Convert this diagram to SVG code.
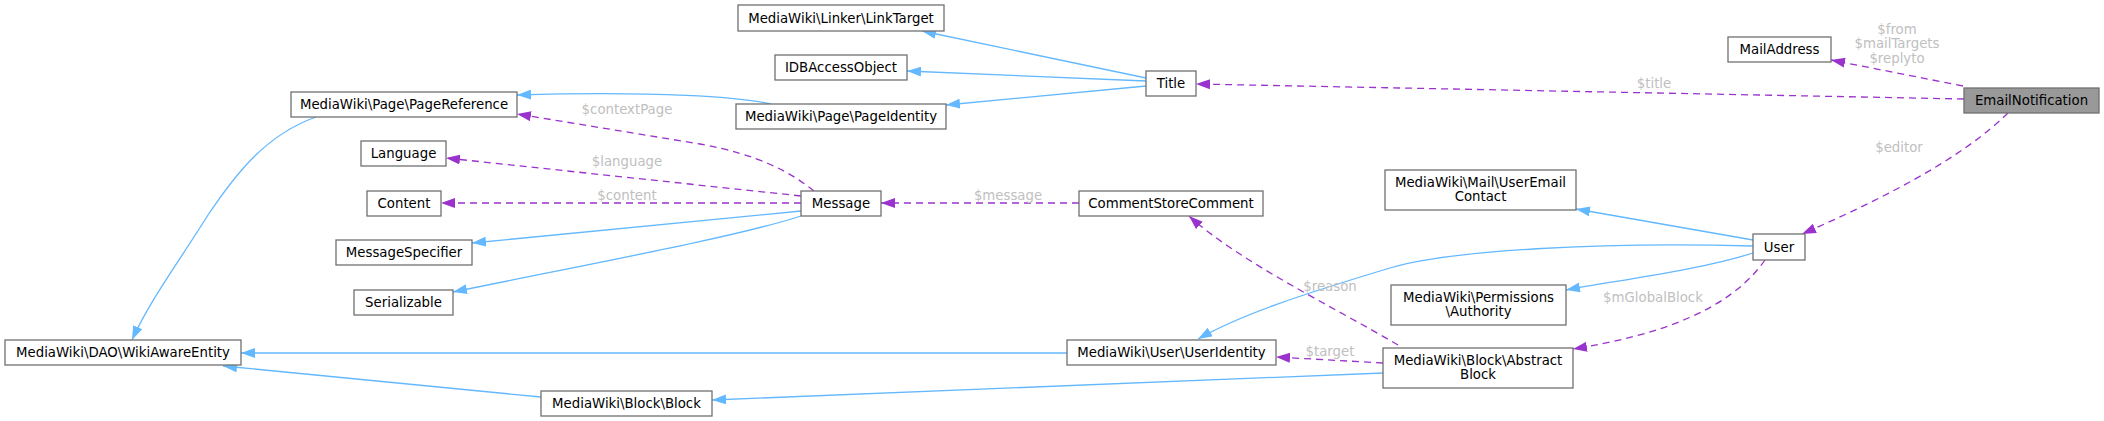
<svg xmlns="http://www.w3.org/2000/svg" width="2104" height="421" viewBox="0 0 2104 421">
<style>
.n rect{fill:#fff;stroke:#707070;stroke-width:1.3}
.n text{font-family:"DejaVu Sans",sans-serif;font-size:13.3px;fill:#000;text-anchor:middle}
.inh{fill:none;stroke:#63b8ff;stroke-width:1.3;marker-end:url(#ab)}
.use{fill:none;stroke:#9a32cd;stroke-width:1.3;stroke-dasharray:7,5;marker-end:url(#ap)}
.lb{font-family:"DejaVu Sans",sans-serif;font-size:13.3px;fill:#c0c0c0;text-anchor:middle}
</style>
<defs>
<marker id="ab" markerUnits="userSpaceOnUse" markerWidth="14" markerHeight="10" refX="14" refY="5" viewBox="0 0 14 10" orient="auto"><path d="M0,0L14,5L0,10z" fill="#63b8ff"/></marker>
<marker id="ap" markerUnits="userSpaceOnUse" markerWidth="14" markerHeight="10" refX="14" refY="5" viewBox="0 0 14 10" orient="auto"><path d="M0,0L14,5L0,10z" fill="#9a32cd"/></marker>
</defs>
<rect width="2104" height="421" fill="#fff"/>
<g id="edges">
<path class="inh" d="M1146,78 L922,31"/>
<path class="inh" d="M1146,81 L907,71"/>
<path class="inh" d="M1146,86 L946,105"/>
<path class="inh" d="M771,104 C740,97 660,91 517,95"/>
<path class="inh" d="M316,117 C265,135 235,175 208,215 C180,260 150,300 132,340"/>
<path class="inh" d="M801,211 L472,243"/>
<path class="inh" d="M801,216 C740,236 600,262 453,292"/>
<path class="inh" d="M1067,353 L241,353"/>
<path class="inh" d="M541,397 L223,366"/>
<path class="inh" d="M1383,373 L712,400"/>
<path class="inh" d="M1753,240 L1576,209"/>
<path class="inh" d="M1753,246 C1600,242 1450,250 1390,268 C1300,295 1240,315 1198,339"/>
<path class="inh" d="M1753,253 C1700,270 1620,280 1566,290"/>
<path class="use" d="M814,191 C790,172 760,155 700,144 L517,114"/>
<path class="use" d="M801,196 L446,158"/>
<path class="use" d="M801,203 L441,203"/>
<path class="use" d="M1079,203 L881,203"/>
<path class="use" d="M1964,99 L1196,84"/>
<path class="use" d="M1963,86 L1831,60"/>
<path class="use" d="M2008,113 C1960,160 1880,200 1802,234"/>
<path class="use" d="M1765,260 C1730,310 1660,335 1573,349"/>
<path class="use" d="M1398,345 C1330,305 1240,262 1189,216"/>
<path class="use" d="M1383,363 L1276,357"/>
<text class="lb" x="627" y="114">$contextPage</text>
<text class="lb" x="627" y="166">$language</text>
<text class="lb" x="627" y="200">$content</text>
<text class="lb" x="1008" y="200">$message</text>
<text class="lb" x="1654" y="88">$title</text>
<text class="lb" x="1897" y="34">$from</text>
<text class="lb" x="1897" y="48">$mailTargets</text>
<text class="lb" x="1897" y="63">$replyto</text>
<text class="lb" x="1899" y="152">$editor</text>
<text class="lb" x="1653" y="302">$mGlobalBlock</text>
<text class="lb" x="1330" y="291">$reason</text>
<text class="lb" x="1330" y="356">$target</text>
</g>
<g id="LinkTarget" class="n"><rect x="738" y="5" width="206" height="26"/><text x="841" y="22.5">MediaWiki\Linker\LinkTarget</text></g>
<g id="IDBAccessObject" class="n"><rect x="775" y="55" width="132" height="25"/><text x="841" y="72">IDBAccessObject</text></g>
<g id="PageIdentity" class="n"><rect x="736" y="104" width="210" height="25"/><text x="841" y="121">MediaWiki\Page\PageIdentity</text></g>
<g id="Title" class="n"><rect x="1146" y="71" width="50" height="25"/><text x="1171" y="88">Title</text></g>
<g id="PageReference" class="n"><rect x="291" y="92" width="226" height="25"/><text x="404" y="109">MediaWiki\Page\PageReference</text></g>
<g id="Language" class="n"><rect x="361" y="141" width="85" height="25"/><text x="403.5" y="158">Language</text></g>
<g id="Content" class="n"><rect x="367" y="191" width="74" height="25"/><text x="404" y="208">Content</text></g>
<g id="MessageSpecifier" class="n"><rect x="336" y="240" width="136" height="25"/><text x="404" y="257">MessageSpecifier</text></g>
<g id="Serializable" class="n"><rect x="354" y="290" width="99" height="25"/><text x="403.5" y="307">Serializable</text></g>
<g id="WikiAwareEntity" class="n"><rect x="5" y="340" width="236" height="25"/><text x="123" y="357">MediaWiki\DAO\WikiAwareEntity</text></g>
<g id="Block" class="n"><rect x="541" y="391" width="171" height="25"/><text x="626.5" y="408">MediaWiki\Block\Block</text></g>
<g id="Message" class="n"><rect x="801" y="191" width="80" height="25"/><text x="841" y="208">Message</text></g>
<g id="CommentStoreComment" class="n"><rect x="1079" y="191" width="184" height="25"/><text x="1171" y="208">CommentStoreComment</text></g>
<g id="UserIdentity" class="n"><rect x="1067" y="340" width="209" height="25"/><text x="1171.5" y="357">MediaWiki\User\UserIdentity</text></g>
<g id="UserEmailContact" class="n"><rect x="1385" y="170" width="191" height="40"/><text x="1480.5" y="187">MediaWiki\Mail\UserEmail</text><text x="1480.5" y="201">Contact</text></g>
<g id="Authority" class="n"><rect x="1391" y="285" width="175" height="40"/><text x="1478.5" y="302">MediaWiki\Permissions</text><text x="1478.5" y="316">\Authority</text></g>
<g id="AbstractBlock" class="n"><rect x="1383" y="348" width="190" height="40"/><text x="1478" y="365">MediaWiki\Block\Abstract</text><text x="1478" y="379">Block</text></g>
<g id="User" class="n"><rect x="1753" y="234" width="52" height="26"/><text x="1779" y="251.5">User</text></g>
<g id="MailAddress" class="n"><rect x="1728" y="37" width="103" height="25"/><text x="1779.5" y="54">MailAddress</text></g>
<g id="EmailNotification" class="n"><rect x="1964" y="88" width="135" height="25" style="fill:#999"/><text x="2031.5" y="105">EmailNotification</text></g>
</svg>
